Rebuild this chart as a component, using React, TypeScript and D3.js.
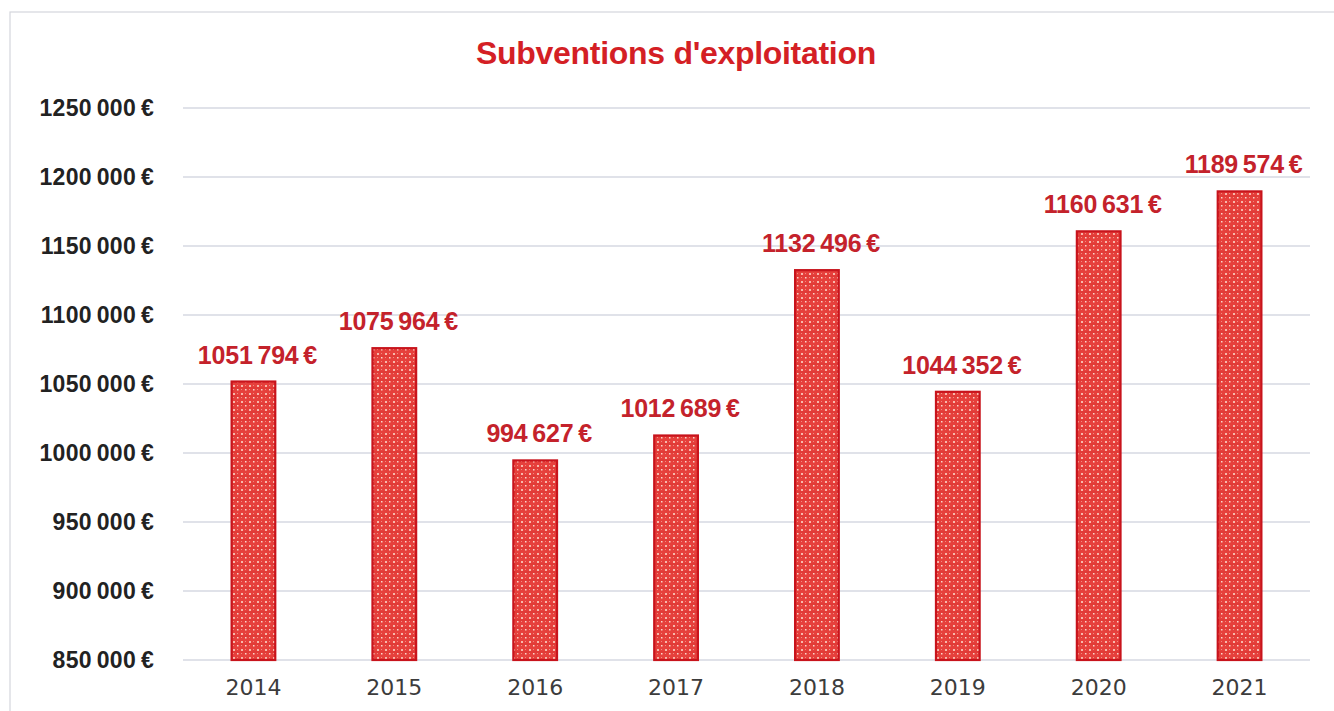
import React from "react";
import * as d3 from "d3";

const years = ["2014", "2015", "2016", "2017", "2018", "2019", "2020", "2021"];
const values = [1051794, 1075964, 994627, 1012689, 1132496, 1044352, 1160631, 1189574];
const yTicks = [850000, 900000, 950000, 1000000, 1050000, 1100000, 1150000, 1200000, 1250000];
const title = "Subventions d'exploitation";

const fmt = (v: number) => {
  const s = Math.round(v).toString();
  return s.slice(0, -3) + "\u2009" + s.slice(-3) + "\u2009€";
};

export default function App() {
  const W = 1334, H = 711;
  const left = 183, right = 1310, top = 108, bottom = 660;
  const x = d3.scaleBand<string>().domain(years).range([left, right]).paddingInner(0.69).paddingOuter(0.345);
  const y = d3.scaleLinear().domain([850000, 1250000]).range([bottom, top]);
  const sans = "'Liberation Sans', Arial, sans-serif";
  return (
    <svg width={W} height={H} style={{ position: "absolute", left: 0, top: 0, background: "#fff" }}>
      <defs>
        <pattern id="tex" width="8" height="8" patternUnits="userSpaceOnUse">
          <rect width="8" height="8" fill="#e6403c" />
          <rect x="1" y="1" width="2" height="2" fill="#f7b8ac" />
          <rect x="5" y="5" width="1.5" height="1.5" fill="#fbd6cc" />
          <rect x="5" y="1" width="1" height="1" fill="#f08a80" />
          <rect x="1" y="5" width="1" height="1" fill="#f08a80" />
          <line x1="0" y1="4" x2="8" y2="4" stroke="#d52e2b" strokeWidth="0.6" />
        </pattern>
      </defs>
      <rect x={10} y={12} width={1340} height={720} fill="#fff" stroke="#d4d6dc" strokeWidth={1.2} />
      <text x={676} y={64} textAnchor="middle" fontFamily={sans} fontWeight="bold" fontSize={32} fill="#d41f25"
        letterSpacing={-0.3}>
        {title}
      </text>
      {yTicks.map((t) => (
        <g key={t}>
          <line x1={left} x2={right} y1={y(t)} y2={y(t)} stroke="#d6d9e2" strokeWidth={1.5} />
          <text x={154} y={y(t)} dy="0.36em" textAnchor="end" fontFamily={sans}
            fontWeight="bold" fontSize={23} fill="#222" letterSpacing={0.3}>
            {fmt(t)}
          </text>
        </g>
      ))}
      {years.map((yr, i) => {
        const v = values[i];
        const bx = x(yr)!;
        const bw = x.bandwidth();
        return (
          <g key={yr}>
            <rect x={bx} y={y(v)} width={bw} height={bottom - y(v)} fill="url(#tex)" stroke="#c8141c" strokeWidth={2.2} />
            <text x={bx + bw / 2 + 4} y={y(v) - 18} textAnchor="middle" fontFamily={sans}
              fontWeight="bold" fontSize={25} fill="#c4222b" letterSpacing={-0.2}>
              {fmt(v)}
            </text>
            <text x={bx + bw / 2} y={695} textAnchor="middle" fontFamily="'DejaVu Sans', sans-serif"
              fontSize={22} fill="#3c3c3c">
              {yr}
            </text>
          </g>
        );
      })}
    </svg>
  );
}
